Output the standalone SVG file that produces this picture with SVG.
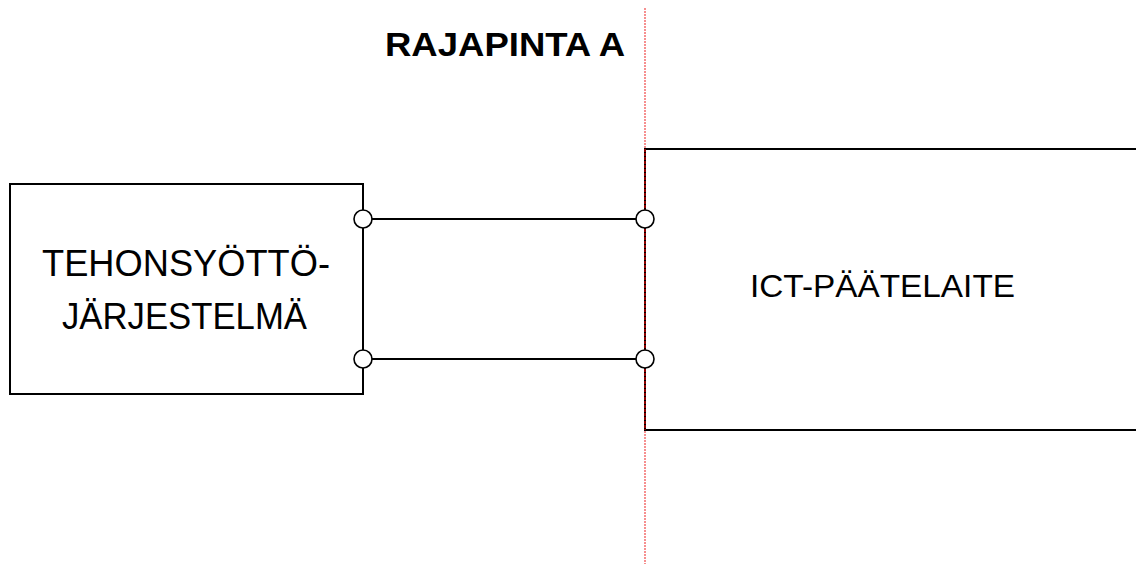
<svg xmlns="http://www.w3.org/2000/svg" width="1136" height="564" viewBox="0 0 1136 564">
<style>
.ln{stroke:#000;stroke-width:2;fill:none}
.t{font-family:"Liberation Sans",Arial,sans-serif;fill:#000}
.term{fill:#fff;stroke:#000;stroke-width:1.6}
</style>
<rect width="1136" height="564" fill="#fff"/>
<g id="boundary">
<line x1="645" y1="8" x2="645" y2="564" stroke="#f25555" stroke-width="1.3" stroke-dasharray="2,1"/>
<text class="t" x="385" y="56" font-size="33" font-weight="bold" textLength="240" lengthAdjust="spacingAndGlyphs">RAJAPINTA A</text>
</g>
<g id="power-supply">
<rect x="10" y="184" width="353" height="210" class="ln"/>
<text class="t" x="42" y="276" font-size="37" textLength="288" lengthAdjust="spacingAndGlyphs">TEHONSYÖTTÖ-</text>
<text class="t" x="62" y="329" font-size="37" textLength="245" lengthAdjust="spacingAndGlyphs">JÄRJESTELMÄ</text>
</g>
<g id="ict-terminal">
<polyline points="1136,149 645,149 645,430 1136,430" class="ln"/>
<line x1="645" y1="149" x2="645" y2="430" stroke="#8b0000" stroke-width="2" stroke-dasharray="3,1"/>
<text class="t" x="750" y="297" font-size="31" textLength="265" lengthAdjust="spacingAndGlyphs">ICT-PÄÄTELAITE</text>
</g>
<g id="connectors">
<line x1="363" y1="219" x2="645" y2="219" class="ln"/>
<line x1="363" y1="359" x2="645" y2="359" class="ln"/>
<circle cx="363" cy="219" r="9" class="term"/>
<circle cx="363" cy="359" r="9" class="term"/>
<circle cx="645" cy="219" r="9" class="term"/>
<circle cx="645" cy="359" r="9" class="term"/>
</g>
</svg>
